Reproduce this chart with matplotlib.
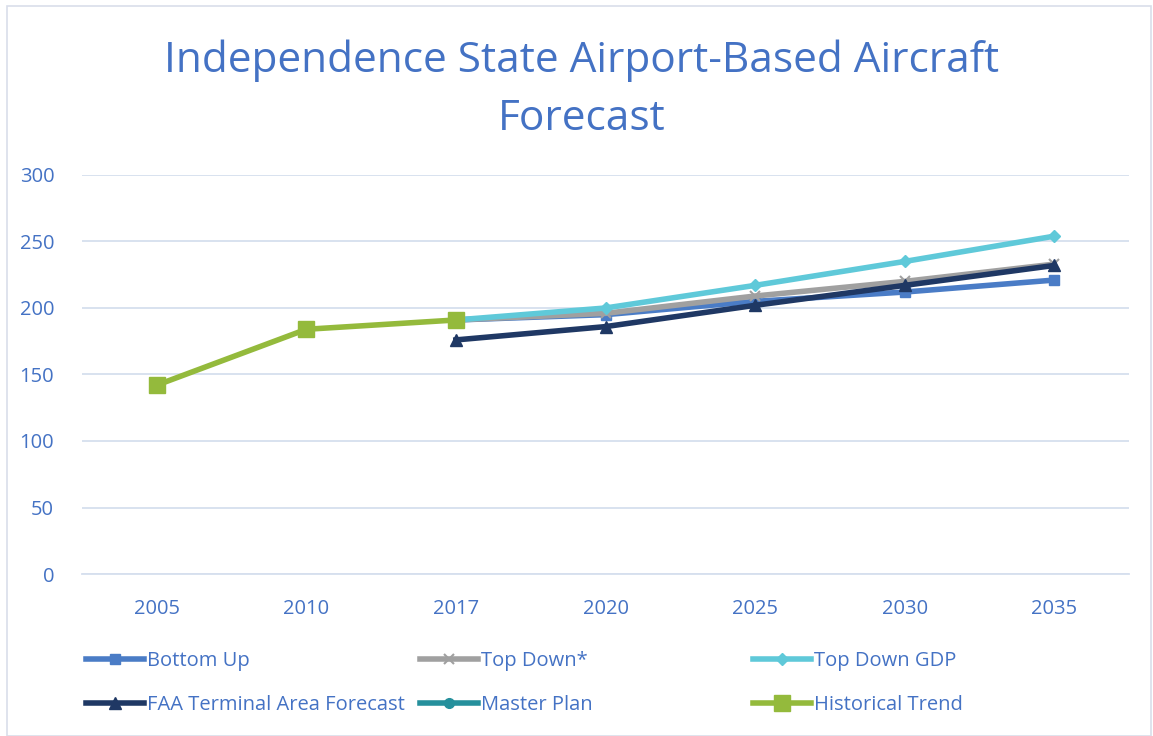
import matplotlib
matplotlib.use("Agg")
import matplotlib.pyplot as plt
import numpy as np

years = ["2005", "2010", "2017", "2020", "2025", "2030", "2035"]
bottom_up = [np.nan, np.nan, 191, 195, 205, 212, 221]
top_down = [np.nan, np.nan, 191, 196, 209, 220, 233]
top_down_gdp = [np.nan, np.nan, 191, 200, 217, 235, 254]
faa_taf = [np.nan, np.nan, 176, 186, 202, 217, 232]
master_plan = [np.nan] * 7
historical = [142, 184, 191, np.nan, np.nan, np.nan, np.nan]
y_ticks = [0, 50, 100, 150, 200, 250, 300]

W, H = 1153, 736
fig = plt.figure(figsize=(W / 100, H / 100), dpi=100)
plt.rcParams['font.family'] = ['Open Sans', 'DejaVu Sans']
txt = '#4472C4'

# outer border
fig.patches.append(plt.Rectangle((7 / W, 0), (W - 9) / W, (H - 6) / H, transform=fig.transFigure,
                                 fill=False, edgecolor='#D9DEEA', linewidth=1.2))

ax = fig.add_axes([82 / W, (H - 574) / H, (1129 - 82) / W, (574 - 175) / H])
x = np.arange(len(years))
lw = 4.0
series = [
    ("Bottom Up", bottom_up, '#4A7CC6', 's', 7),
    ("Top Down*", top_down, '#A0A0A0', 'x', 7),
    ("Top Down GDP", top_down_gdp, '#5FC9D9', 'D', 6),
    ("FAA Terminal Area Forecast", faa_taf, '#1F3864', '^', 8),
    ("Master Plan", master_plan, '#25909C', 'o', 7),
    ("Historical Trend", historical, '#94BA3C', 's', 11),
]
handles = {}
for name, vals, c, m, ms in series:
    h, = ax.plot(x, vals, color=c, lw=lw, marker=m, markersize=ms, label=name,
                 markeredgecolor=c, markeredgewidth=1.5 if m == 'x' else 1)
    handles[name] = h

ax.set_xlim(-0.5, len(years) - 0.5)
ax.set_ylim(0, 300)
ax.set_yticks(y_ticks)
ax.set_xticks(x)
ax.set_xticklabels(years)
ax.grid(axis='y', color='#D6DFEE', linewidth=1.3)
ax.set_axisbelow(True)
for s in ['top', 'right', 'left']:
    ax.spines[s].set_visible(False)
ax.spines['bottom'].set_color('#D6DFEE')
ax.spines['bottom'].set_linewidth(1.3)
ax.tick_params(axis='both', length=0, labelsize=14.5, colors=txt)
ax.tick_params(axis='y', pad=20)
ax.tick_params(axis='x', pad=18)

fig.text(582 / W, 1 - 90 / H, "Independence State Airport-Based Aircraft\nForecast",
         ha='center', va='center', fontsize=30.5, color=txt, linespacing=1.5)

columns = [["Bottom Up", "FAA Terminal Area Forecast"],
           ["Top Down*", "Master Plan"],
           ["Top Down GDP", "Historical Trend"]]
col_x = [86, 420, 753]
for names, cx in zip(columns, col_x):
    leg = fig.legend([handles[n] for n in names], names, loc='upper left',
                     bbox_to_anchor=(cx / W, 1 - 651 / H),
                     frameon=False, fontsize=14.5, handlelength=2.9, handletextpad=0.15,
                     labelspacing=1.2, borderaxespad=0, borderpad=0)
    for t in leg.get_texts():
        t.set_color(txt)

fig.savefig("out.png", dpi=100)
